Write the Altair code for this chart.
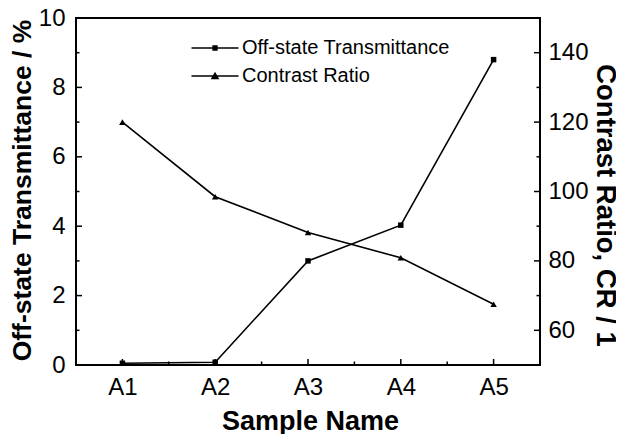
import altair as alt
import pandas as pd

# ---- data ----
samples = ["A1", "A2", "A3", "A4", "A5"]
positions = [1, 2, 3, 4, 5]
transmittance = [0.05, 0.08, 3.0, 4.03, 8.8]      # Off-state Transmittance / %
contrast = [120.0, 98.5, 88.2, 80.9, 67.5]         # Contrast Ratio
series_names = ["Off-state Transmittance", "Contrast Ratio"]

x_minor = [1.5, 2.5, 3.5, 4.5]
left_major = [0, 2, 4, 6, 8, 10]
left_minor = [1, 3, 5, 7, 9]
right_major = [60, 80, 100, 120, 140]
right_minor = [70, 90, 110, 130]

df = pd.DataFrame({"pos": positions, "sample": samples,
                   "T": transmittance, "CR": contrast})

W, H = 464, 347
FONT = "Liberation Sans"

xscale = alt.Scale(domain=[0.5, 5.5], nice=False, zero=False)
lscale = alt.Scale(domain=[0, 10], nice=False, zero=False)
rscale = alt.Scale(domain=[50, 150], nice=False, zero=False)

label_expr = "[" + ",".join(f"'{s}'" for s in samples) + "][datum.value - 1]"

x_axis = alt.Axis(values=positions, labelExpr=label_expr, title="Sample Name",
                  ticks=False, domain=False, grid=False, labelPadding=10,
                  titleX=234, titleY=64, titleBaseline="alphabetic", titleFontSize=27)
left_axis = alt.Axis(values=left_major, title="Off-state Transmittance / %",
                     ticks=False, domain=False, grid=False, labelPadding=11,
                     titleX=-46, titleY=172, titleBaseline="alphabetic", titleFontSize=26.5)
right_axis = alt.Axis(values=right_major, title="Contrast Ratio, CR / 1",
                      orient="right", ticks=False, domain=False, grid=False,
                      labelPadding=8, titleX=56, titleY=187,
                      titleBaseline="alphabetic", titleFontSize=27.5)

# ---- left (transmittance) group ----
t_line = alt.Chart(df).mark_line(
    color="black", strokeWidth=1.6,
    point=alt.OverlayMarkDef(shape="square", size=30, filled=True, color="black", opacity=1),
).encode(
    x=alt.X("pos:Q", scale=xscale, axis=x_axis),
    y=alt.Y("T:Q", scale=lscale, axis=left_axis),
)

lmaj = alt.Chart(pd.DataFrame({"v": left_major})).mark_rule(color="black", strokeWidth=1.5).encode(
    y=alt.Y("v:Q", scale=lscale, axis=left_axis), x=alt.value(0), x2=alt.value(6))
lmin = alt.Chart(pd.DataFrame({"v": left_minor})).mark_rule(color="black", strokeWidth=1.5).encode(
    y=alt.Y("v:Q", scale=lscale, axis=left_axis), x=alt.value(0), x2=alt.value(3.5))
xmaj = alt.Chart(pd.DataFrame({"v": positions})).mark_rule(color="black", strokeWidth=1.5).encode(
    x=alt.X("v:Q", scale=xscale, axis=x_axis), y=alt.value(H), y2=alt.value(H - 6))
xmin = alt.Chart(pd.DataFrame({"v": x_minor})).mark_rule(color="black", strokeWidth=1.5).encode(
    x=alt.X("v:Q", scale=xscale, axis=x_axis), y=alt.value(H), y2=alt.value(H - 3.5))

# legend symbols: "—■—" and "—▲—" drawn as filled paths
p_square = "M-3.36,-0.11H3.36V0.11H-3.36ZM-0.38,-0.38H0.38V0.38H-0.38Z"
p_triangle = "M-3.36,-0.11H3.36V0.11H-3.36ZM0,-0.6L0.62,0.45H-0.62Z"
legend_layer = alt.Chart(pd.DataFrame({"series": series_names})).mark_point(
    fill="black", stroke="black", strokeWidth=0, opacity=0
).encode(
    shape=alt.Shape("series:N",
                    scale=alt.Scale(domain=series_names, range=[p_square, p_triangle]),
                    legend=alt.Legend(title=None, orient="none", legendX=129, legendY=20,
                                      symbolSize=196, symbolStrokeWidth=0,
                                      symbolFillColor="black",
                                      symbolOpacity=1, labelFont=FONT, labelFontSize=20,
                                      labelColor="black", labelOffset=17, rowPadding=8,
                                      labelLimit=0, padding=0))
)

left_group = alt.layer(lmaj, lmin, xmaj, xmin, t_line, legend_layer)

# ---- right (contrast ratio) group ----
cr_line = alt.Chart(df).mark_line(
    color="black", strokeWidth=1.6,
    point=alt.OverlayMarkDef(shape="triangle-up", size=42, filled=True, color="black", opacity=1),
).encode(
    x=alt.X("pos:Q", scale=xscale, axis=x_axis),
    y=alt.Y("CR:Q", scale=rscale, axis=right_axis),
)
rmaj = alt.Chart(pd.DataFrame({"v": right_major})).mark_rule(color="black", strokeWidth=1.5).encode(
    y=alt.Y("v:Q", scale=rscale, axis=right_axis), x=alt.value(W), x2=alt.value(W - 6))
rmin = alt.Chart(pd.DataFrame({"v": right_minor})).mark_rule(color="black", strokeWidth=1.5).encode(
    y=alt.Y("v:Q", scale=rscale, axis=right_axis), x=alt.value(W), x2=alt.value(W - 3.5))

right_group = alt.layer(rmaj, rmin, cr_line)

chart = alt.layer(left_group, right_group).resolve_scale(y="independent").properties(
    width=W, height=H,
    padding={"left": 68, "top": 10, "right": 76, "bottom": 69},
    autosize=alt.AutoSizeParams(type="none"),
).configure_view(
    stroke="black", strokeWidth=2
).configure_axis(
    labelFont=FONT, labelFontSize=24, labelColor="black",
    titleFont=FONT, titleFontWeight="bold", titleColor="black",
)

chart.save("out.html", embed_options={"renderer": "svg", "actions": False})
